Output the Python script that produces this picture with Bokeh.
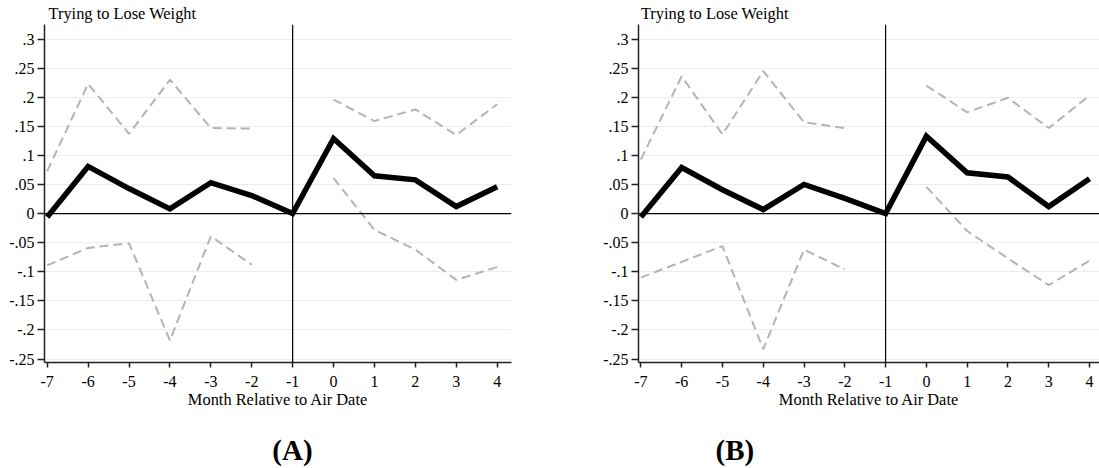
import numpy as np
from bokeh.plotting import figure
from bokeh.layouts import row
from bokeh.models import Span, Title, FixedTicker, Range1d, LinearAxis
from bokeh.embed import file_html
from bokeh.resources import INLINE

months = [-7, -6, -5, -4, -3, -2, -1, 0, 1, 2, 3, 4]
est_a = [-0.006, 0.081, 0.043, 0.008, 0.053, 0.031, 0.0, 0.129, 0.065, 0.058, 0.012, 0.046]
hi_a = [0.073, 0.223, 0.137, 0.230, 0.147, 0.146, None, 0.196, 0.159, 0.179, 0.135, 0.188]
lo_a = [-0.089, -0.059, -0.051, -0.218, -0.039, -0.088, None, 0.061, -0.028, -0.062, -0.114, -0.092]
est_b = [-0.006, 0.079, 0.041, 0.007, 0.050, 0.026, 0.0, 0.133, 0.070, 0.063, 0.012, 0.060]
hi_b = [0.093, 0.236, 0.136, 0.245, 0.157, 0.147, None, 0.220, 0.174, 0.199, 0.147, 0.203]
lo_b = [-0.110, -0.083, -0.056, -0.233, -0.062, -0.096, None, 0.046, -0.030, -0.077, -0.123, -0.081]

y_ticks = [-0.25, -0.2, -0.15, -0.1, -0.05, 0.0, 0.05, 0.1, 0.15, 0.2, 0.25, 0.3]
y_tick_labels = ["-.25", "-.2", "-.15", "-.1", "-.05", "0", ".05", ".1", ".15", ".2", ".25", ".3"]
x_ticks = months
x_tick_labels = [str(m) for m in months]

panel_title = "Trying to Lose Weight"
x_title = "Month Relative to Air Date"
panel_tags = ["(A)", "(B)"]

FONT = "Liberation Serif"
TAG_SIZE = 29
NBSP = "\u00a0"


def arr(v):
    return np.array([np.nan if a is None else a for a in v], dtype=float)


def shifted(text, shift_px):
    # shift a frame-centred label sideways by padding it with no-break spaces
    n = int(round(2 * abs(shift_px) / (0.25 * TAG_SIZE)))
    return NBSP * n + text if shift_px > 0 else text + NBSP * n


def make_panel(est, hi, lo, tag, width, xr, bl, br, tag_shift, title_off):
    p = figure(width=width, height=468, output_backend="svg", toolbar_location=None,
               x_range=Range1d(*xr), y_range=Range1d(-0.256, 0.325),
               min_border_left=bl, min_border_right=br, min_border_top=24,
               min_border_bottom=106)
    p.outline_line_color = None
    p.background_fill_color = "white"
    p.border_fill_color = "white"
    p.xgrid.visible = False
    p.ygrid.ticker = FixedTicker(ticks=y_ticks)
    p.ygrid.grid_line_color = "#e6eef0"
    p.ygrid.grid_line_width = 1

    p.yaxis.ticker = FixedTicker(ticks=y_ticks)
    p.yaxis.major_label_overrides = {t: l for t, l in zip(y_ticks, y_tick_labels)}
    p.xaxis.ticker = FixedTicker(ticks=x_ticks)
    p.xaxis.major_label_overrides = {t: l for t, l in zip(x_ticks, x_tick_labels)}
    for ax in (p.xaxis, p.yaxis):
        ax.axis_line_color = "#222222"
        ax.axis_line_width = 1.5
        ax.major_tick_line_color = "#222222"
        ax.major_tick_line_width = 1.5
        ax.major_tick_in = 0
        ax.minor_tick_line_color = None
        ax.major_label_text_font = FONT
        ax.major_label_text_font_size = "16px"
        ax.major_label_text_color = "black"
    p.yaxis.major_tick_out = 7
    p.xaxis.major_tick_out = 5
    p.yaxis.major_label_standoff = 3
    p.xaxis.major_label_standoff = 8
    p.xaxis.axis_label = x_title
    p.xaxis.axis_label_text_font = FONT
    p.xaxis.axis_label_text_font_size = "16.4px"
    p.xaxis.axis_label_text_font_style = "normal"
    p.xaxis.axis_label_text_color = "black"
    p.xaxis.axis_label_standoff = 0

    # panel tag "(A)"/"(B)": label of an empty, invisible axis below the x axis
    tag_axis = LinearAxis(ticker=FixedTicker(ticks=[]),
                          axis_line_color=None, major_tick_line_color=None,
                          minor_tick_line_color=None, major_tick_out=0, major_tick_in=0,
                          major_label_text_font_size="0px", major_label_standoff=0,
                          axis_label=shifted(tag, tag_shift), axis_label_standoff=22,
                          axis_label_text_font=FONT, axis_label_text_font_size=f"{TAG_SIZE}px",
                          axis_label_text_font_style="bold", axis_label_text_color="black")
    p.add_layout(tag_axis, "below")

    p.add_layout(Span(location=0, dimension="width", line_color="black", line_width=1.2))
    p.add_layout(Span(location=-1, dimension="height", line_color="black", line_width=1.2))

    x = np.array(months, dtype=float)
    p.line(x, arr(hi), line_color="#b4b4b4", line_width=2, line_dash="9 5")
    p.line(x, arr(lo), line_color="#b4b4b4", line_width=2, line_dash="9 5")
    p.line(x, arr(est), line_color="black", line_width=5.5, line_join="miter")

    p.add_layout(Title(text=panel_title, align="left", offset=title_off, standoff=3,
                       text_font=FONT, text_font_size="16.4px", text_font_style="normal",
                       text_color="black"), "above")
    return p


pa = make_panel(est_a, hi_a, lo_a, panel_tags[0], 590, (-7.066, 4.35), 44, 79, 15.5, 4)
pb = make_panel(est_b, hi_b, lo_b, panel_tags[1], 509, (-7.059, 4.245), 48, 0, -132.7, 2.4)

layout = row(pa, pb)
open("out.html", "w").write(file_html(layout, INLINE))
